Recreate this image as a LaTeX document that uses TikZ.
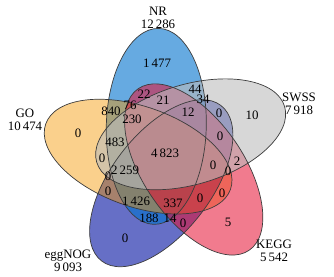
\documentclass[tikz,border=0pt]{standalone}
\usepackage{fontspec}
\setmainfont{Liberation Serif}
\begin{document}
\begin{tikzpicture}[
    x=0.03cm, y=0.03cm,
    every node/.style={font=\fontsize{11}{11}\selectfont, inner sep=0pt},
    lbl/.style={align=center},
    rim/.style={draw={rgb,255:red,60;green,60;blue,60}, line width=0.6pt},
    tint/.style={fill opacity=0.6},
    egpos/.style={shift={(-103:30)}, rotate=-127.5},
    nrpos/.style={shift={(113:30)}, rotate=88.5},
    gopos/.style={shift={(185:30)}, rotate=160.5},
    kgpos/.style={shift={(-31:30)}, rotate=-55.5},
    swpos/.style={shift={(41:30)}, rotate=16.5}
]
\useasboundingbox (0,0) rectangle (334,276);

%% ── Set ellipses: fills, then outlines ─────────────────────────────
\begin{scope}[shift={(168,122)}]
\fill[tint, egpos, fill={rgb,255:red,0;green,15;blue,160}]
    (0,0) ellipse [x radius=98, y radius=50];
\fill[tint, nrpos, fill={rgb,255:red,0;green,113;blue,205}]
    (0,0) ellipse [x radius=98, y radius=50];
\fill[tint, gopos, fill opacity=0.45, fill={rgb,255:red,244;green,150;blue,0}]
    (0,0) ellipse [x radius=98, y radius=50];
\fill[tint, kgpos, fill opacity=0.55, fill={rgb,255:red,230;green,15;blue,50}]
    (0,0) ellipse [x radius=98, y radius=50];
\fill[tint, swpos, fill={rgb,255:red,188;green,188;blue,188}]
    (0,0) ellipse [x radius=98, y radius=50];

\draw[rim, egpos] (0,0) ellipse [x radius=98, y radius=50];
\draw[rim, nrpos] (0,0) ellipse [x radius=98, y radius=50];
\draw[rim, gopos] (0,0) ellipse [x radius=98, y radius=50];
\draw[rim, kgpos] (0,0) ellipse [x radius=98, y radius=50];
\draw[rim, swpos] (0,0) ellipse [x radius=98, y radius=50];
\end{scope}

%% ── Set names and sizes ────────────────────────────────────────────
\node[lbl] (nrlab) at (158, 258)   {NR\\12\,286};
\node[lbl] (golab) at (25, 156.5)  {GO\\10\,474};
\node[lbl] (swlab) at (299, 172.5) {SWSS\\7\,918};
\node[lbl] (kglab) at (274, 25)    {KEGG\\5\,542};
\node[lbl] (eglab) at (68, 15.5)   {eggNOG\\9\,093};

%% ── Region counts ──────────────────────────────────────────────────
\node (n1477) at (157, 213) {1\,477};
\node (n22)   at (144, 182) {22};
\node (n76)   at (130, 171) {76};
\node (n840)  at (111, 165) {840};
\node (n230)  at (132, 157) {230};
\node (n21)   at (163, 176) {21};
\node (n44)   at (195, 187) {44};
\node (n34)   at (203, 177) {34};
\node (n12)   at (188, 164) {12};
\node (n10)   at (252, 161) {10};
\node (n483)  at (115, 134) {483};
\node (n4823) at (165, 123) {4\,823};
\node (n2259) at (125, 106) {2\,259};
\node (n1426) at (136, 75)  {1\,426};
\node (n188)  at (149, 58)  {188};
\node (n337)  at (173, 73)  {337};
\node (n14)   at (170, 58)  {14};
\node (n5)    at (228, 54)  {5};
\node (n2)    at (237, 115) {2};

%% ── Empty regions ──────────────────────────────────────────────────
\node (z1)  at (78, 143)  {0};
\node (z2)  at (102, 118) {0};
\node (z3)  at (108, 100) {0};
\node (z4)  at (108, 85)  {0};
\node (z5)  at (125, 38)  {0};
\node (z6)  at (183, 53)  {0};
\node (z7)  at (200, 78)  {0};
\node (z8)  at (222, 83)  {0};
\node (z9)  at (213, 111) {0};
\node (z10) at (228, 105) {0};
\node (z11) at (220, 140) {0};
\node (z12) at (219, 163) {0};

\end{tikzpicture}
\end{document}
